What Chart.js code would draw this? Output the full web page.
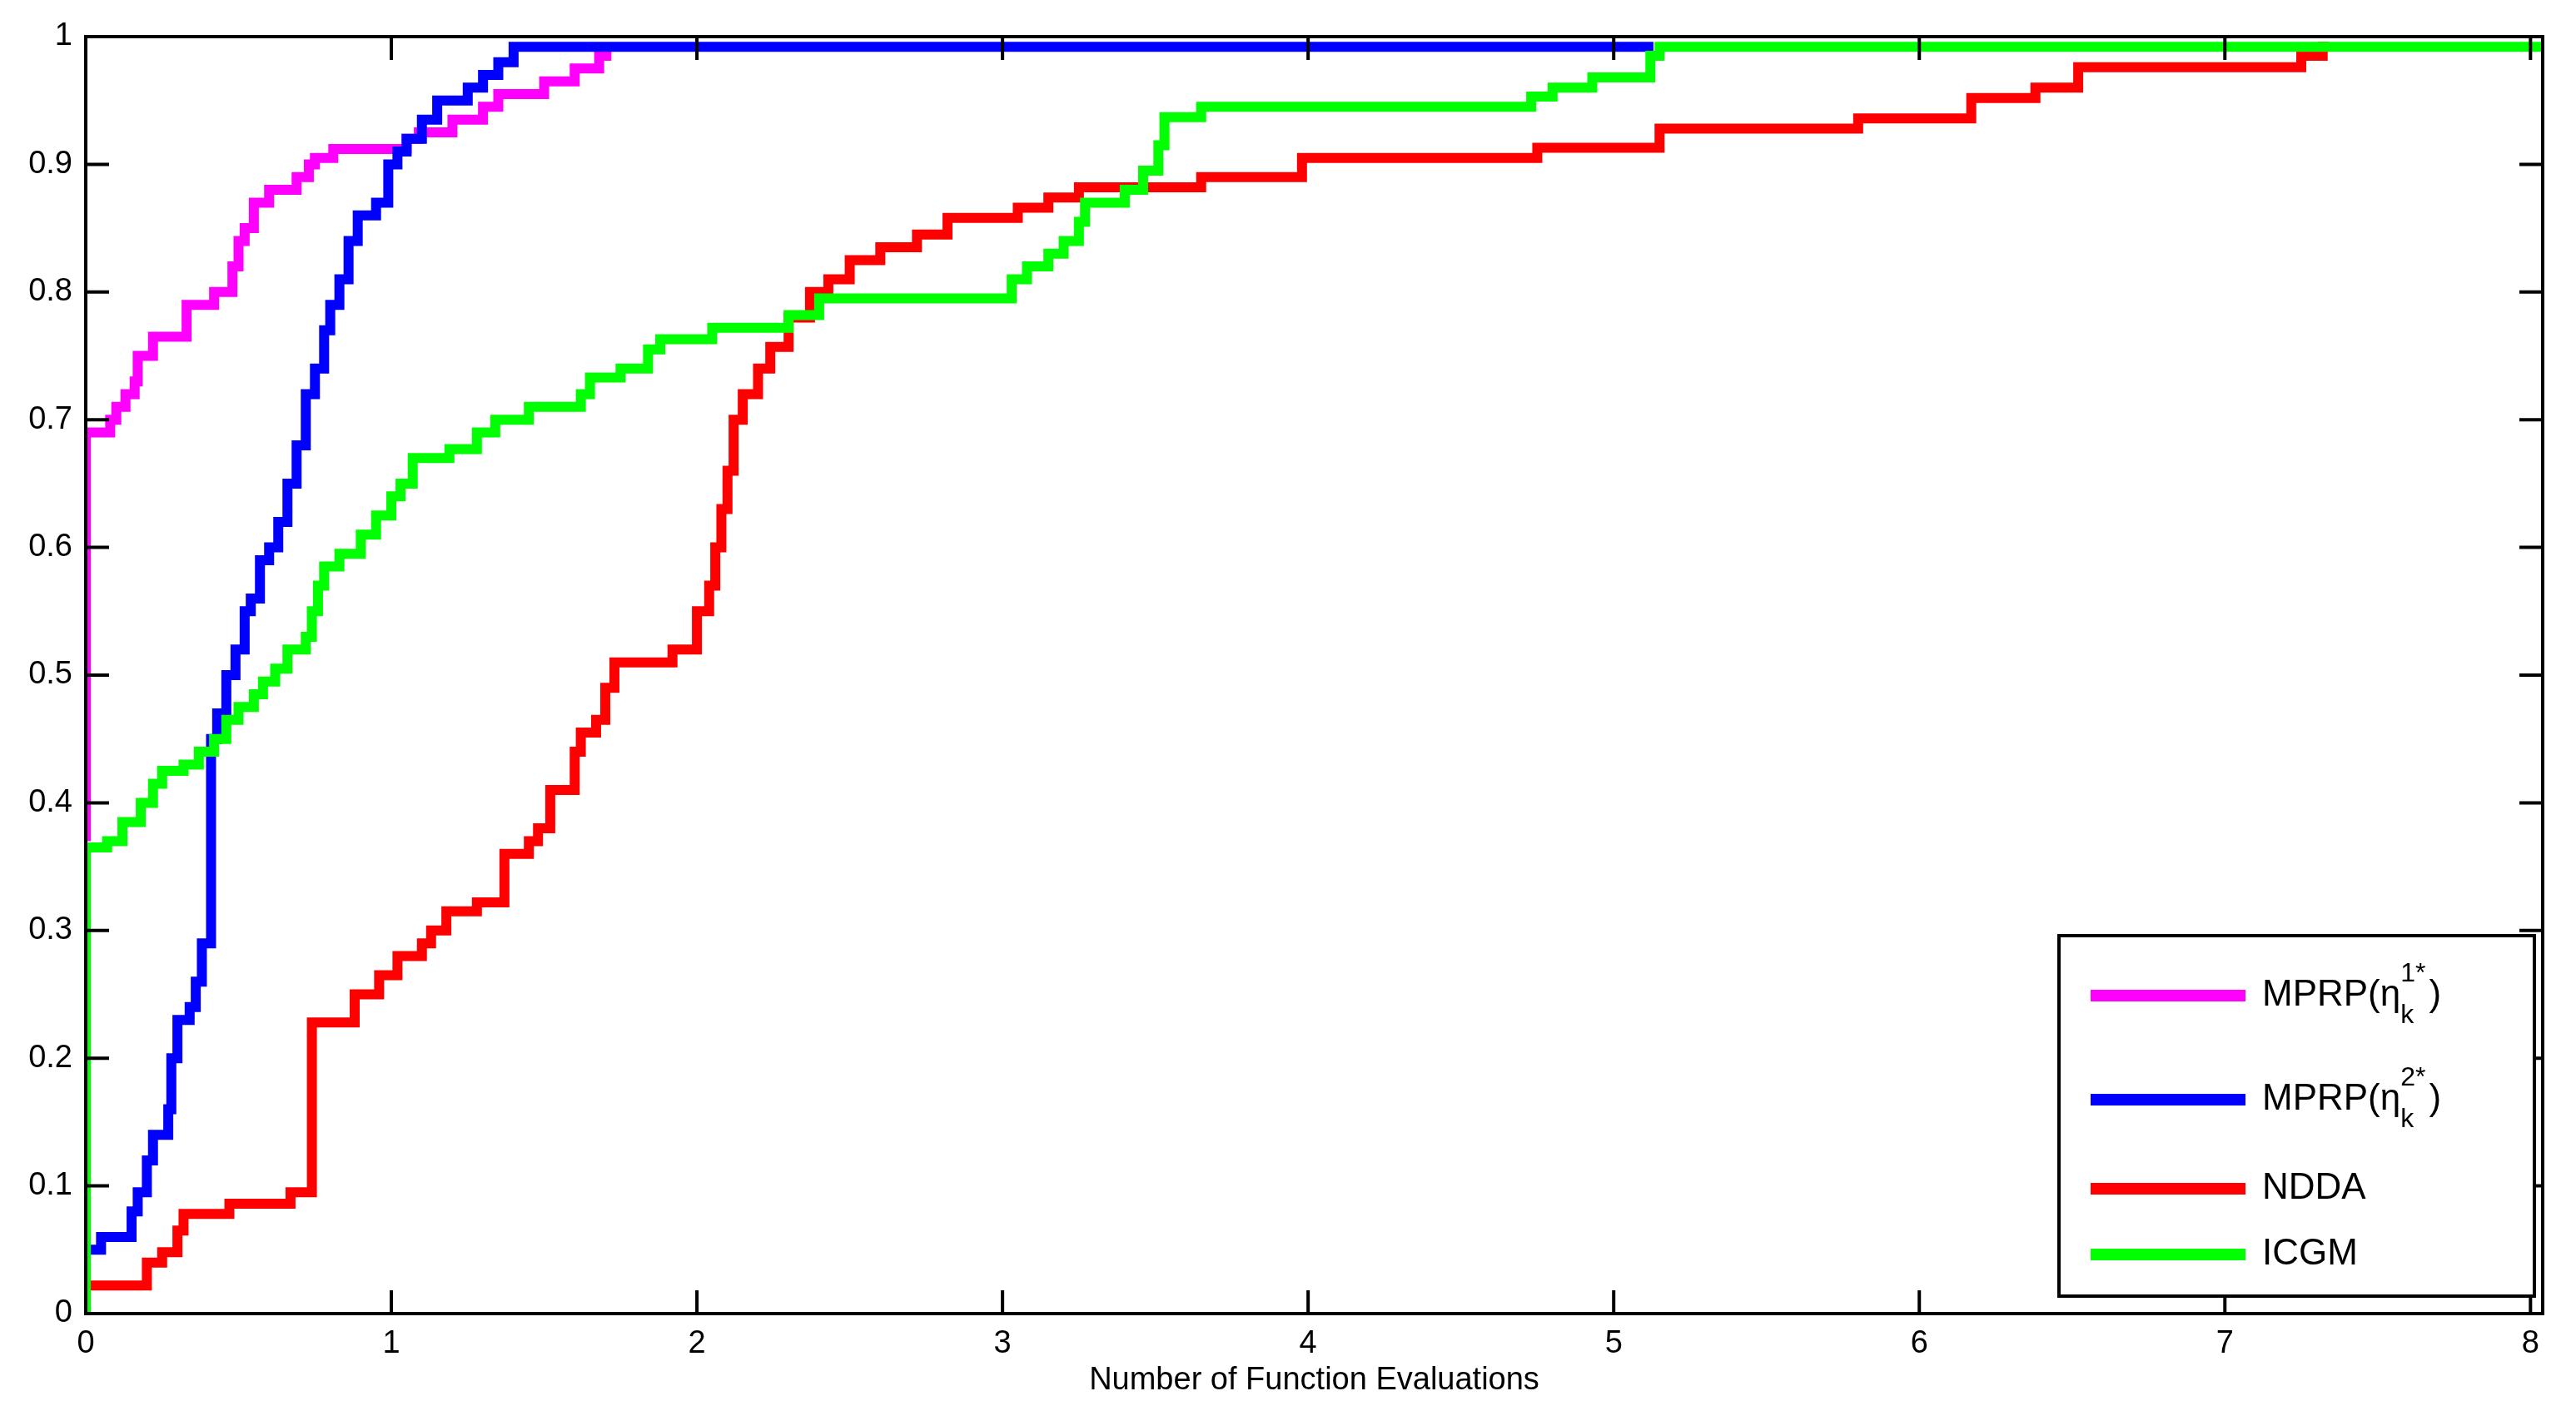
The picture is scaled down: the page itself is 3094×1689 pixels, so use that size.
<!DOCTYPE html>
<html><head><meta charset="utf-8">
<script src="https://cdn.jsdelivr.net/npm/chart.js@4/dist/chart.umd.min.js"></script>
<style>html,body{margin:0;padding:0;background:#fff}#wrap{width:3094px;height:1689px}</style>
</head><body><div id="wrap"><canvas id="c"></canvas></div>
<script>
const seriesNames = ["MPRP(η_k^1*)", "MPRP(η_k^2*)", "NDDA", "ICGM"];
const xTicks = [0,1,2,3,4,5,6,7,8];
const yTicks = [0,0.1,0.2,0.3,0.4,0.5,0.6,0.7,0.8,0.9,1];
const magentaX = [0,0,0.08,0.1,0.13,0.16,0.17,0.22,0.33,0.42,0.48,0.5,0.52,0.55,0.6,0.69,0.73,0.75,0.81,1.05,1.09,1.2,1.3,1.35,1.5,1.6,1.68,1.72];
const magentaY = [0.37,0.69,0.70,0.71,0.72,0.73,0.75,0.765,0.79,0.80,0.82,0.84,0.85,0.87,0.88,0.89,0.90,0.905,0.912,0.92,0.925,0.935,0.945,0.955,0.965,0.975,0.985,0.985];
const blueX = [0,0.05,0.15,0.17,0.2,0.22,0.27,0.28,0.3,0.34,0.36,0.38,0.41,0.43,0.46,0.49,0.52,0.54,0.57,0.6,0.63,0.66,0.69,0.72,0.75,0.78,0.8,0.83,0.86,0.89,0.95,0.99,1.02,1.05,1.1,1.15,1.25,1.3,1.35,1.4,5.13];
const blueY = [0.05,0.06,0.08,0.095,0.12,0.14,0.16,0.2,0.23,0.24,0.26,0.29,0.45,0.47,0.5,0.52,0.55,0.56,0.59,0.6,0.62,0.65,0.68,0.72,0.74,0.77,0.79,0.81,0.84,0.86,0.87,0.9,0.91,0.92,0.935,0.95,0.96,0.97,0.98,0.992,0.992];
const redX = [0,0.2,0.25,0.3,0.32,0.47,0.67,0.74,0.88,0.96,1.02,1.1,1.13,1.18,1.28,1.37,1.45,1.48,1.52,1.6,1.62,1.67,1.7,1.73,1.92,2.0,2.04,2.06,2.08,2.1,2.12,2.15,2.2,2.24,2.3,2.37,2.43,2.5,2.6,2.72,2.82,3.05,3.15,3.25,3.65,3.98,4.75,5.15,5.8,6.17,6.38,6.52,7.25,7.32,7.34];
const redY = [0.022,0.04,0.048,0.065,0.078,0.086,0.095,0.228,0.25,0.265,0.28,0.29,0.3,0.315,0.322,0.36,0.37,0.38,0.41,0.44,0.455,0.465,0.49,0.51,0.52,0.55,0.57,0.6,0.63,0.66,0.7,0.72,0.74,0.757,0.78,0.8,0.81,0.825,0.835,0.845,0.858,0.866,0.874,0.882,0.89,0.905,0.913,0.928,0.936,0.952,0.96,0.976,0.985,0.992,0.992];
const greenX = [0,0,0.07,0.12,0.18,0.22,0.25,0.32,0.37,0.42,0.46,0.5,0.55,0.58,0.62,0.66,0.72,0.74,0.76,0.78,0.83,0.9,0.95,1.0,1.03,1.07,1.19,1.28,1.34,1.45,1.62,1.65,1.75,1.84,1.88,2.05,2.3,2.4,3.03,3.08,3.15,3.2,3.25,3.27,3.4,3.46,3.51,3.53,3.65,4.73,4.8,4.93,5.12,5.15,8.04];
const greenY = [0,0.365,0.37,0.385,0.40,0.415,0.425,0.43,0.44,0.45,0.465,0.475,0.485,0.495,0.505,0.52,0.53,0.55,0.57,0.585,0.595,0.61,0.625,0.64,0.65,0.67,0.677,0.69,0.7,0.71,0.72,0.733,0.74,0.755,0.763,0.772,0.782,0.795,0.81,0.82,0.83,0.84,0.855,0.87,0.88,0.895,0.915,0.937,0.945,0.953,0.96,0.968,0.985,0.992,0.992];
const colors = ["#ff00ff","#0000ff","#ff0000","#00ff00"];
const pts = (xs,ys)=>xs.map((x,i)=>({x:x,y:ys[i]}));
const allX=[magentaX,blueX,redX,greenX], allY=[magentaY,blueY,redY,greenY];
const FONT='"Liberation Sans", Arial, sans-serif';
const datasets = seriesNames.map((n,i)=>({label:n,data:pts(allX[i],allY[i]),borderColor:colors[i],backgroundColor:colors[i],borderWidth:12,pointRadius:0,stepped:'before',fill:false,order:3-i}));

const frame = {id:'frame',afterDraw(ch){
  const c=ch.ctx,a=ch.chartArea,xs=ch.scales.x,ys=ch.scales.y,T=28;
  c.save();c.strokeStyle='#000';c.lineWidth=4;
  c.strokeRect(a.left,a.top,a.right-a.left,a.bottom-a.top);
  c.beginPath();
  xTicks.forEach(v=>{const p=xs.getPixelForValue(v);c.moveTo(p,a.bottom);c.lineTo(p,a.bottom-T);c.moveTo(p,a.top);c.lineTo(p,a.top+T);});
  yTicks.forEach(v=>{const p=ys.getPixelForValue(v);c.moveTo(a.left,p);c.lineTo(a.left+T,p);c.moveTo(a.right,p);c.lineTo(a.right-T,p);});
  c.stroke();
  const L=2473,Tp=1124,W=571,H=433;
  c.fillStyle='#fff';c.fillRect(L,Tp,W,H);c.strokeRect(L,Tp,W,H);
  const ly=[1196,1321,1428,1507];
  c.textBaseline='middle';c.textAlign='left';
  ly.forEach((y,i)=>{
    c.strokeStyle=colors[i];c.lineWidth=14;c.beginPath();c.moveTo(2511,y);c.lineTo(2697,y);c.stroke();
    c.fillStyle='#000';
    if(i<2){
      c.font='44px '+FONT;let x=2717;const base='MPRP(η';c.fillText(base,x,y);x+=c.measureText(base).width;
      c.font='32px '+FONT;c.fillText('k',x,y+24);c.fillText((i+1)+'*',x,y-26);x+=c.measureText((i+1)+'*').width+4;
      c.font='44px '+FONT;c.fillText(')',x,y);
    } else {c.font='44px '+FONT;c.fillText(seriesNames[i],2717,y);}
  });
  c.restore();
}};

new Chart(document.getElementById('c'),{type:'line',data:{datasets},
options:{responsive:true,maintainAspectRatio:false,animation:false,
 layout:{padding:{top:44,right:40,left:0,bottom:0}},
 plugins:{legend:{display:false},tooltip:{enabled:false}},
 scales:{
  x:{type:'linear',min:0,max:8.04,afterBuildTicks(s){s.ticks=xTicks.map(v=>({value:v}));},
     grid:{display:false},border:{display:false},
     ticks:{color:'#000',font:{size:38,family:FONT},padding:6,maxRotation:0},
     title:{display:true,text:'Number of Function Evaluations',color:'#000',font:{size:38,family:FONT},padding:{top:0,bottom:8}},
     afterFit(s){s.height=111;}},
  y:{min:0,max:1,afterBuildTicks(s){s.ticks=yTicks.map(v=>({value:v}));},
     grid:{display:false},border:{display:false},
     ticks:{color:'#000',font:{size:38,family:FONT},padding:8,callback:v=>String(v)},
     afterFit(s){s.width=103;}}
 }},plugins:[frame]});
</script></body></html>
